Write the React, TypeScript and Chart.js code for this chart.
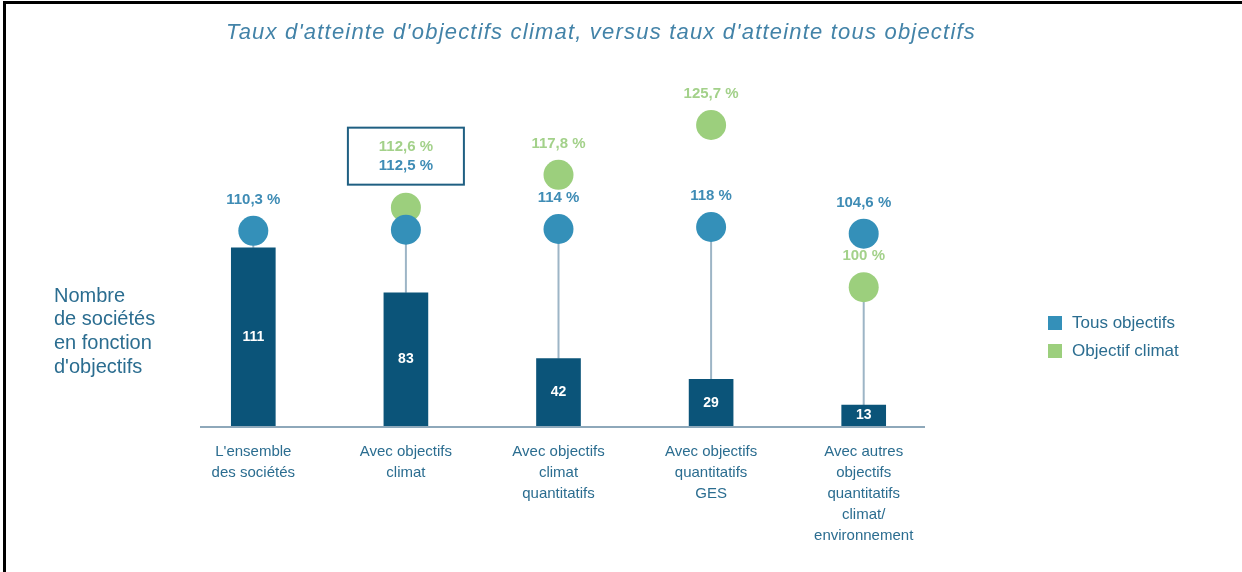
import React, { useEffect, useRef } from 'react';
import { Chart, registerables } from 'chart.js';

Chart.register(...registerables);

// ---------- Data ----------
const categories: string[][] = [
  ["L'ensemble", 'des sociétés'],
  ['Avec objectifs', 'climat'],
  ['Avec objectifs', 'climat', 'quantitatifs'],
  ['Avec objectifs', 'quantitatifs', 'GES'],
  ['Avec autres', 'objectifs', 'quantitatifs', 'climat/', 'environnement'],
];
const nombreSocietes = [111, 83, 42, 29, 13];
const tauxTousObjectifs = [110.3, 112.5, 114, 118, 104.6];
const tauxObjectifClimat: (number | null)[] = [null, 112.6, 117.8, 125.7, 100];
const seriesNames = ['Tous objectifs', 'Objectif climat'];
const chartTitle = "Taux d'atteinte d'objectifs climat, versus taux d'atteinte tous objectifs";
const leftLabelLines = ['Nombre', 'de sociétés', 'en fonction', "d'objectifs"];
const boxedCategoryIndex = 1;

// ---------- Styles ----------
const FONT = '"Liberation Sans", Arial, Helvetica, sans-serif';
const BAR_COLOR = '#0b5479';
const BLUE_DOT = '#3490b9';
const GREEN_DOT = '#9ccf7d';
const BLUE_TEXT = '#3f8cb5';
const GREEN_TEXT = '#a3d18a';
const AXIS_TEXT = '#2b6d90';
const TITLE_COLOR = '#4383a8';
const STEM_COLOR = '#9db5c6';
const BASELINE_COLOR = '#8ea8ba';
const BOX_COLOR = '#1f5f82';

const fmtPct = (v: number) => v.toString().replace('.', ',') + ' %';

const decorPlugin = {
  id: 'decor',
  beforeDraw(chart: any) {
    const { ctx } = chart;
    ctx.save();
    // frame (top + left)
    ctx.fillStyle = '#000';
    ctx.fillRect(3, 1, chart.width - 3, 3);
    ctx.fillRect(3, 1, 3, chart.height - 1);

    // title
    ctx.font = `italic 22px ${FONT}`;
    ctx.fillStyle = TITLE_COLOR;
    ctx.textAlign = 'center';
    ctx.textBaseline = 'middle';
    try { (ctx as any).letterSpacing = '1.2px'; } catch (e) {}
    ctx.fillText(chartTitle, 601, 33);
    try { (ctx as any).letterSpacing = '0px'; } catch (e) {}

    // left label
    ctx.font = `20px ${FONT}`;
    ctx.fillStyle = AXIS_TEXT;
    ctx.textAlign = 'left';
    leftLabelLines.forEach((line, i) => {
      ctx.fillText(line, 54, 296 + i * 23.7);
    });

    // legend
    const legendColors = [BLUE_DOT, GREEN_DOT];
    ctx.font = `17px ${FONT}`;
    seriesNames.forEach((name, i) => {
      const y = 323 + i * 28;
      ctx.fillStyle = legendColors[i];
      ctx.fillRect(1048, y - 7, 14, 14);
      ctx.fillStyle = AXIS_TEXT;
      ctx.fillText(name, 1072, y);
    });
    ctx.restore();
  },
  beforeDatasetsDraw(chart: any) {
    const { ctx, scales, chartArea } = chart;
    const xs = scales.x;
    const yc = scales.yCount;
    const yt = scales.yTous;
    const yk = scales.yClimat;
    ctx.save();
    // stems from bar top to the lower dot
    ctx.strokeStyle = STEM_COLOR;
    ctx.lineWidth = 2;
    categories.forEach((_, i) => {
      const x = xs.getPixelForValue(i);
      const top = yc.getPixelForValue(nombreSocietes[i]);
      const ys = [yt.getPixelForValue(tauxTousObjectifs[i])];
      const c = tauxObjectifClimat[i];
      if (c != null) ys.push(yk.getPixelForValue(c));
      const low = Math.max(...ys);
      ctx.beginPath();
      ctx.moveTo(x, top);
      ctx.lineTo(x, low);
      ctx.stroke();
    });
    // baseline
    const y0 = yc.getPixelForValue(0) + 1;
    ctx.strokeStyle = BASELINE_COLOR;
    ctx.lineWidth = 2;
    ctx.beginPath();
    ctx.moveTo(chartArea.left + 23, y0);
    ctx.lineTo(chartArea.right - 15, y0);
    ctx.stroke();
    ctx.restore();
  },
  afterDatasetsDraw(chart: any) {
    const { ctx, scales } = chart;
    const xs = scales.x;
    const yc = scales.yCount;
    const yt = scales.yTous;
    const yk = scales.yClimat;
    ctx.save();
    ctx.textAlign = 'center';
    ctx.textBaseline = 'middle';
    // values inside bars
    ctx.font = `bold 14px ${FONT}`;
    ctx.fillStyle = '#ffffff';
    nombreSocietes.forEach((v, i) => {
      const x = xs.getPixelForValue(i);
      const top = yc.getPixelForValue(v);
      const bottom = yc.getPixelForValue(0);
      ctx.fillText(String(v), x, (top + bottom) / 2);
    });
    // percentage labels
    ctx.font = `bold 15px ${FONT}`;
    categories.forEach((_, i) => {
      const x = xs.getPixelForValue(i);
      const tv = tauxTousObjectifs[i];
      const cv = tauxObjectifClimat[i];
      const ty = yt.getPixelForValue(tv);
      if (i === boxedCategoryIndex && cv != null) {
        const cy = yk.getPixelForValue(cv);
        const bottom = Math.min(ty, cy) - 23;
        const top = bottom - 57;
        ctx.strokeStyle = BOX_COLOR;
        ctx.lineWidth = 2;
        ctx.strokeRect(x - 58, top, 116, 57);
        ctx.fillStyle = GREEN_TEXT;
        ctx.fillText(fmtPct(cv), x, top + 19);
        ctx.fillStyle = BLUE_TEXT;
        ctx.fillText(fmtPct(tv), x, top + 38);
      } else {
        ctx.fillStyle = BLUE_TEXT;
        ctx.fillText(fmtPct(tv), x, ty - 31);
        if (cv != null) {
          const cy = yk.getPixelForValue(cv);
          ctx.fillStyle = GREEN_TEXT;
          ctx.fillText(fmtPct(cv), x, cy - 31);
        }
      }
    });
    ctx.restore();
  },
};

export default function App() {
  const canvasRef = useRef<HTMLCanvasElement | null>(null);

  useEffect(() => {
    if (!canvasRef.current) return;
    const chart = new Chart(canvasRef.current, {
      type: 'bar',
      data: {
        labels: categories,
        datasets: [
          {
            type: 'line',
            label: seriesNames[0],
            data: tauxTousObjectifs,
            yAxisID: 'yTous',
            showLine: false,
            pointRadius: 15,
            pointHoverRadius: 15,
            pointBorderWidth: 0,
            pointBackgroundColor: BLUE_DOT,
            borderColor: BLUE_DOT,
            backgroundColor: BLUE_DOT,
            order: 0,
            clip: false,
          } as any,
          {
            type: 'line',
            label: seriesNames[1],
            data: tauxObjectifClimat,
            yAxisID: 'yClimat',
            showLine: false,
            pointRadius: 15,
            pointHoverRadius: 15,
            pointBorderWidth: 0,
            pointBackgroundColor: GREEN_DOT,
            borderColor: GREEN_DOT,
            backgroundColor: GREEN_DOT,
            order: 1,
            clip: false,
          } as any,
          {
            type: 'bar',
            label: 'Nombre de sociétés',
            data: nombreSocietes,
            yAxisID: 'yCount',
            backgroundColor: BAR_COLOR,
            barThickness: 44,
            order: 2,
          } as any,
        ],
      },
      options: {
        responsive: true,
        maintainAspectRatio: false,
        animation: false,
        layout: { padding: { left: 177, right: 302, top: 60, bottom: 0 } },
        plugins: {
          legend: { display: false },
          title: { display: false },
          tooltip: { enabled: false },
        },
        scales: {
          x: {
            type: 'category',
            grid: { display: false },
            border: { display: false },
            ticks: {
              color: AXIS_TEXT,
              font: { family: FONT, size: 15, lineHeight: 1.4 },
              padding: 7.5,
              maxRotation: 0,
              autoSkip: false,
            },
            afterFit: (scale: any) => {
              scale.height = 146;
            },
          },
          yCount: { type: 'linear', display: false, min: 0, max: 228 },
          yClimat: { type: 'linear', display: false, min: 78, max: 136 },
          yTous: { type: 'linear', display: false, min: -280, max: 452 },
        },
      } as any,
      plugins: [decorPlugin],
    });
    return () => chart.destroy();
  }, []);

  return (
    <div style={{ position: 'fixed', left: 0, top: 0, width: 1242, height: 572, background: '#fff' }}>
      <canvas ref={canvasRef} />
    </div>
  );
}
